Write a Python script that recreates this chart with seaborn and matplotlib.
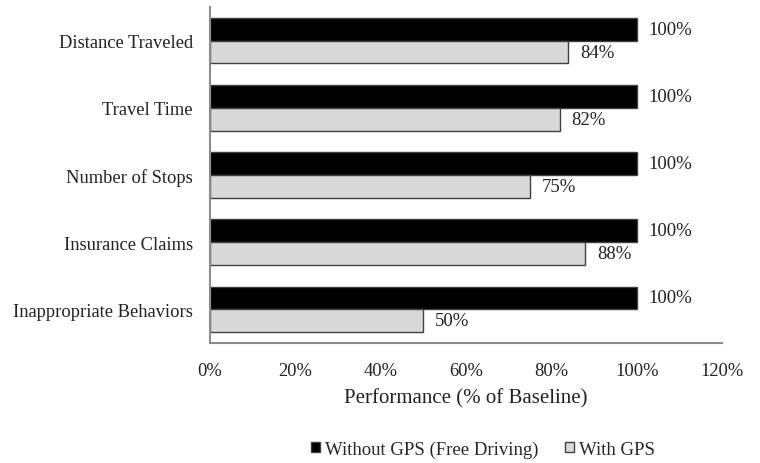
import matplotlib
matplotlib.use("Agg")
import matplotlib.pyplot as plt
import seaborn as sns
import pandas as pd
from matplotlib.ticker import FuncFormatter
from matplotlib.patches import Patch

categories = ["Distance Traveled", "Travel Time", "Number of Stops",
              "Insurance Claims", "Inappropriate Behaviors"]
without_gps = [100, 100, 100, 100, 100]
with_gps = [84, 82, 75, 88, 50]
series_names = ["Without GPS (Free Driving)", "With GPS"]
x_ticks = [0, 20, 40, 60, 80, 100, 120]

df = pd.DataFrame({
    "Category": categories * 2,
    "Value": without_gps + with_gps,
    "Series": [series_names[0]] * len(categories) + [series_names[1]] * len(categories),
})

sns.set_style("white")
plt.rcParams["font.family"] = ["Liberation Serif", "DejaVu Serif"]

fig = plt.figure(figsize=(7.6, 4.64), dpi=100)
ax = fig.add_axes([210 / 760, 1 - 344 / 464, 512 / 760, 336 / 464])

palette = {series_names[0]: "#000000", series_names[1]: "#d9d9d9"}
sns.barplot(data=df, y="Category", x="Value", hue="Series", order=categories,
            hue_order=series_names, palette=palette, orient="h", width=0.68,
            edgecolor="#404040", linewidth=1.0, saturation=1, ax=ax, legend=False)

for container in ax.containers:
    ax.bar_label(container, labels=[f"{v:.0f}%" for v in container.datavalues],
                 padding=8.5, fontsize=13.5, color="#222222")

ax.set_xlim(0, 120)
ax.set_xticks(x_ticks)
ax.xaxis.set_major_formatter(FuncFormatter(lambda v, p: f"{v:.0f}%"))
ax.tick_params(axis="both", length=0, labelsize=13.3, colors="#222222")
ax.tick_params(axis="x", pad=14)
ax.tick_params(axis="y", pad=12.5)
ax.set_ylabel("")
ax.set_xlabel("Performance (% of Baseline)", fontsize=15, color="#222222", labelpad=6)

for side in ["top", "right"]:
    ax.spines[side].set_visible(False)
for side in ["left", "bottom"]:
    ax.spines[side].set_color("#8c8c8c")
    ax.spines[side].set_linewidth(1.5)

handles = [Patch(facecolor=palette[s], edgecolor="#404040", linewidth=1.0) for s in series_names]
fig.legend(handles, series_names, loc="center", bbox_to_anchor=(483 / 760, 1 - 450 / 464),
           ncol=2, frameon=False, fontsize=13.5, handlelength=0.5, handleheight=0.5,
           handletextpad=0.27, columnspacing=1.4)

fig.savefig("out.png", dpi=100)
